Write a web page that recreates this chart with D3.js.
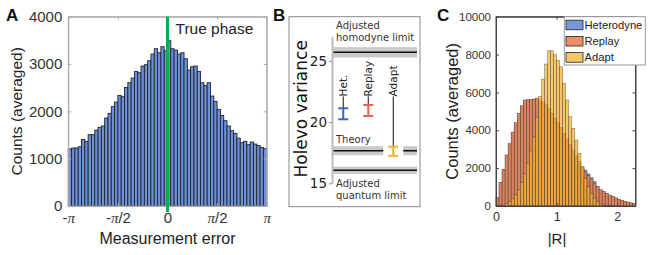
<!DOCTYPE html>
<html><head><meta charset="utf-8">
<script src="https://cdn.jsdelivr.net/npm/d3@7"></script>
<style>body{margin:0;background:#fff} svg{display:block}</style>
</head><body><svg id="c" width="653" height="255"></svg>
<script>
// ---------- Panel A data ----------
const errorCounts = [1204,1225,1225,1253,1408,1366,1507,1507,1605,1661,
  1690,1859,1957,2098,2196,2337,2309,2506,2605,2703,
  2844,2816,2957,2985,3069,3210,3323,3238,3365,3281,
  3492,3323,3295,3210,3238,3112,2872,2943,2957,2844,
  2605,2548,2605,2323,2211,2042,1915,1802,1690,1591,
  1535,1436,1337,1366,1295,1352,1309,1281,1239,1211];
const errorTicks = [-Math.PI, -Math.PI/2, 0, Math.PI/2, Math.PI];
const errorTickLabels = ["-π","-π/2","0","π/2","π"];
const countTicksA = [0,1000,2000,3000,4000];
const truePhase = [0];

// ---------- Panel B data ----------
const methods = ["Het.","Replay","Adapt"];
const methodPos = [0.45,1.45,2.45];
const holevoMean = [20.68,20.95,17.62];
const holevoErr = [0.45,0.45,0.37];
const limitLabels = [["Adjusted","homodyne limit"],["Theory"],["Adjusted","quantum limit"]];
const limitValues = [25.70,17.66,16.06];
const limitBand = [0.42,0.37,0.30];
const holevoTicks = [15,20,25];

// ---------- Panel C data ----------
const rBinStart = 0, rBinWidth = 0.05;
const heterodyne = [430,1230,1930,2680,3280,3880,4380,4880,5280,5580,
  5600,5600,5630,5680,5580,5480,5330,5130,4880,4630,
  4380,4130,3830,3530,3230,2930,2630,2330,2050,1900,
  1700,1500,1300,1020,850,750,660,570,490,420,
  350,290,240,200,160,120];
const replay = [450,1250,1950,2700,3300,3900,4400,4900,5300,5600,
  5620,5620,5650,5700,5600,5500,5350,5150,4900,4650,
  4400,4150,3850,3550,3250,2950,2650,2350,2050,1800,
  1600,1420,1200,1020,860,760,670,580,500,430,
  360,300,250,210,170,130];
const adapt = [0,15,50,120,230,400,600,850,1250,1700,
  2250,2900,3650,4700,5800,6700,7500,8200,8200,8000,
  7700,7355,6475,5600,4715,4100,3485,2780,2075,1460,
  1020,670,405,230,140,60,30,15,8,0,
  0,0,0,0,0,0];
const seriesNames = ["Heterodyne","Replay","Adapt"];
const countTicksC = [0,2000,4000,6000,8000,10000];
const rTicks = [0,1,2];

const svg = d3.select("#c");
const SANS = "'Liberation Sans', Arial, sans-serif";
const DJV = "'DejaVu Sans', sans-serif";
const intFmt = d3.format("d");

[["A",6],["B",273],["C",437]].forEach(([t,x])=>{
  svg.append("text").attr("x",x).attr("y",21).text(t)
    .attr("font-family",SANS).attr("font-weight","bold").attr("font-size",17).attr("fill","#111");
});

// ================= Panel A =================
const xA = d3.scaleLinear().domain([-Math.PI, Math.PI]).range([68.3, 266.7]);
const yA = d3.scaleLinear().domain([0,4000]).range([206, 16.7]);
const gA = svg.append("g");
const bwA = 2*Math.PI/errorCounts.length;
gA.selectAll("rect.bar").data(errorCounts).join("rect").attr("class","bar")
  .attr("x",(d,i)=>xA(-Math.PI+i*bwA))
  .attr("width",(d,i)=>xA(-Math.PI+(i+1)*bwA)-xA(-Math.PI+i*bwA))
  .attr("y",d=>yA(d)).attr("height",d=>yA(0)-yA(d))
  .attr("fill","#6f92d6").attr("stroke","#1e2230").attr("stroke-width",0.9);

function styleAxis(g, color, font, size, tc){
  g.selectAll("path.domain").attr("stroke",color);
  g.selectAll(".tick line").attr("stroke",color);
  g.selectAll("text").attr("font-family",font).attr("font-size",size).attr("fill",tc||"#333");
}
gA.append("rect").attr("x",xA.range()[0]).attr("y",yA.range()[1])
  .attr("width",xA.range()[1]-xA.range()[0]).attr("height",yA.range()[0]-yA.range()[1])
  .attr("fill","none").attr("stroke","#aaa");
const axA_b = gA.append("g").attr("transform",`translate(0,${yA(0)})`)
  .call(d3.axisBottom(xA).tickValues(errorTicks).tickSize(-3).tickSizeOuter(0).tickPadding(6).tickFormat((d,i)=>errorTickLabels[i]));
styleAxis(axA_b,"#aaa",SANS,15);
axA_b.selectAll(".tick text").each(function(d,i){
  const t = d3.select(this); const lab = errorTickLabels[i]; t.text(null);
  const parts = lab.split("π");
  parts.forEach((p,j)=>{
    if(p) t.append("tspan").text(p);
    if(j<parts.length-1) t.append("tspan").text("π").attr("font-family","'Liberation Serif', serif").attr("font-style","italic");
  });
});
const axA_t = gA.append("g").attr("transform",`translate(0,${yA(4000)})`)
  .call(d3.axisTop(xA).tickValues(errorTicks).tickSize(-3).tickSizeOuter(0).tickFormat(""));
styleAxis(axA_t,"#aaa",SANS,15);
const axA_l = gA.append("g").attr("transform",`translate(${xA(-Math.PI)},0)`)
  .call(d3.axisLeft(yA).tickValues(countTicksA).tickSize(-3).tickSizeOuter(0).tickPadding(6).tickFormat(intFmt));
styleAxis(axA_l,"#aaa",SANS,15);
const axA_r = gA.append("g").attr("transform",`translate(${xA(Math.PI)},0)`)
  .call(d3.axisRight(yA).tickValues(countTicksA).tickSize(-3).tickSizeOuter(0).tickFormat(""));
styleAxis(axA_r,"#aaa",SANS,15);
gA.selectAll("line.tp").data(truePhase).join("line").attr("class","tp")
  .attr("x1",d=>xA(d)).attr("x2",d=>xA(d)).attr("y1",yA(4000)).attr("y2",yA(0)+6)
  .attr("stroke","#00b050").attr("stroke-width",3);
gA.append("text").attr("x",xA(0)+8).attr("y",34).text("True phase")
  .attr("font-family",SANS).attr("font-size",15.5).attr("fill","#222");
gA.append("text").attr("x",(xA.range()[0]+xA.range()[1])/2).attr("y",244).attr("text-anchor","middle")
  .text("Measurement error").attr("font-family",SANS).attr("font-size",16).attr("fill","#222");
gA.append("text").attr("transform",`translate(22,${(yA.range()[0]+yA.range()[1])/2}) rotate(-90)`)
  .attr("text-anchor","middle").text("Counts (averaged)")
  .attr("font-family",SANS).attr("font-size",15.5).attr("fill","#222");

// ================= Panel B =================
const gB = svg.append("g");
gB.append("rect").attr("x",289).attr("y",16.7).attr("width",131).attr("height",190)
  .attr("fill","#fff").attr("stroke","#888");
const xB = d3.scaleLinear().domain([0,3.4]).range([332,417]);
const yB = d3.scaleLinear().domain([15,27]).range([183.3,36.4]);
const gapHalf = 0.4;
const segs = [];
limitValues.forEach((v,i)=>{
  const inGap = methodPos.map((p,k)=>({p,k})).filter(o=>Math.abs(holevoMean[o.k]-v)<limitBand[i]+holevoErr[o.k]);
  let pieces = [[0,3.4]];
  inGap.forEach(o=>{
    pieces = pieces.flatMap(([a,b])=>{
      const g0=o.p-gapHalf, g1=o.p+gapHalf;
      if(g1<=a||g0>=b) return [[a,b]];
      const out=[]; if(g0>a) out.push([a,g0]); if(g1<b) out.push([g1,b]); return out;
    });
  });
  pieces.forEach(([a,b])=>segs.push({v,band:limitBand[i],a,b}));
});
gB.selectAll("rect.band").data(segs).join("rect").attr("class","band")
  .attr("x",d=>xB(d.a)).attr("width",d=>xB(d.b)-xB(d.a))
  .attr("y",d=>yB(d.v+d.band)).attr("height",d=>yB(d.v-d.band)-yB(d.v+d.band))
  .attr("fill","#c9c9c9");
gB.selectAll("line.lim").data(segs).join("line").attr("class","lim")
  .attr("x1",d=>xB(d.a)).attr("x2",d=>xB(d.b)).attr("y1",d=>yB(d.v)).attr("y2",d=>yB(d.v))
  .attr("stroke","#111").attr("stroke-width",1.6);
const axB = gB.append("g").attr("transform",`translate(${xB(0)},0)`)
  .call(d3.axisLeft(yB).tickValues(holevoTicks).tickSize(3).tickSizeOuter(0).tickPadding(2));
axB.selectAll("path.domain").attr("stroke","#bbb").attr("stroke-width",2);
axB.selectAll(".tick line").attr("stroke","#888");
axB.selectAll("text").attr("font-family",DJV).attr("font-size",13.5).attr("fill","#222");
gB.append("text").attr("transform",`translate(307,${(yB(15)+yB(27))/2 - 1}) rotate(-90)`)
  .attr("text-anchor","middle").text("Holevo variance")
  .attr("font-family",DJV).attr("font-size",17).attr("fill","#111");
const labelY = [[29,41],[143],[187,199]];
limitLabels.forEach((lines,i)=>{
  lines.forEach((t,j)=>{
    gB.append("text").attr("x",xB(0)+4).attr("y",labelY[i][j]).text(t)
      .attr("font-family",DJV).attr("font-size",10).attr("fill","#333");
  });
});
const colB = ["#3d64c4","#e8604a","#f0b22e"];
const labelBase = 22.1;
methods.forEach((m,i)=>{
  const x = xB(methodPos[i]), y0=yB(holevoMean[i]-holevoErr[i]), y1=yB(holevoMean[i]+holevoErr[i]);
  gB.append("line").attr("x1",x).attr("x2",x).attr("y1",yB(labelBase)).attr("y2",y1)
    .attr("stroke","#111").attr("stroke-width",1);
  gB.append("line").attr("x1",x).attr("x2",x).attr("y1",y0).attr("y2",y1).attr("stroke",colB[i]).attr("stroke-width",2);
  [y0,y1].forEach(y=>gB.append("line").attr("x1",x-5).attr("x2",x+5).attr("y1",y).attr("y2",y)
    .attr("stroke",colB[i]).attr("stroke-width",2));
  gB.append("text").attr("transform",`translate(${x},${yB(labelBase)}) rotate(-90)`)
    .attr("text-anchor","start").attr("dominant-baseline","central").text(m)
    .attr("font-family",DJV).attr("font-size",10.5).attr("fill","#222");
});

// ================= Panel C =================
const gC = svg.append("g");
const xC = d3.scaleLinear().domain([0,2.3]).range([496,635.5]);
const yC = d3.scaleLinear().domain([0,10000]).range([206,16.7]);
const colC = ["#3b6fc6","#e8804e","#f1b033"];
const opC = [0.7,0.88,0.72];
[heterodyne,replay,adapt].forEach((arr,s)=>{
  gC.append("g").selectAll("rect").data(arr).join("rect")
    .attr("x",(d,i)=>xC(rBinStart+i*rBinWidth))
    .attr("width",(d,i)=>xC(rBinStart+(i+1)*rBinWidth)-xC(rBinStart+i*rBinWidth))
    .attr("y",d=>yC(d)).attr("height",d=>yC(0)-yC(d))
    .attr("fill",colC[s]).attr("fill-opacity",opC[s])
    .attr("stroke","#222").attr("stroke-width",0.5).attr("stroke-opacity",0.6);
});
gC.append("rect").attr("x",xC(0)).attr("y",yC(10000)).attr("width",xC(2.3)-xC(0)).attr("height",yC(0)-yC(10000))
  .attr("fill","none").attr("stroke","#444");
const axC_b = gC.append("g").attr("transform",`translate(0,${yC(0)})`)
  .call(d3.axisBottom(xC).tickValues(rTicks).tickSize(-3).tickSizeOuter(0).tickPadding(6).tickFormat(intFmt));
styleAxis(axC_b,"#444",SANS,12.5);
const axC_t = gC.append("g").attr("transform",`translate(0,${yC(10000)})`)
  .call(d3.axisTop(xC).tickValues(rTicks).tickSize(-3).tickSizeOuter(0).tickFormat(""));
styleAxis(axC_t,"#444",SANS,12);
const axC_l = gC.append("g").attr("transform",`translate(${xC(0)},0)`)
  .call(d3.axisLeft(yC).tickValues(countTicksC).tickSize(-3).tickSizeOuter(0).tickPadding(5).tickFormat(intFmt));
styleAxis(axC_l,"#444",SANS,11.5);
const axC_r = gC.append("g").attr("transform",`translate(${xC(2.3)},0)`)
  .call(d3.axisRight(yC).tickValues(countTicksC).tickSize(-3).tickSizeOuter(0).tickFormat(""));
styleAxis(axC_r,"#444",SANS,12);
gC.append("text").attr("x",557).attr("y",244).attr("text-anchor","middle").text("|R|")
  .attr("font-family",SANS).attr("font-size",15).attr("fill","#222");
gC.append("text").attr("transform",`translate(458,${(yC(0)+yC(10000))/2}) rotate(-90)`)
  .attr("text-anchor","middle").text("Counts (averaged)")
  .attr("font-family",SANS).attr("font-size",16.5).attr("fill","#222");
const lg = gC.append("g");
lg.append("rect").attr("x",564.3).attr("y",16.7).attr("width",81).attr("height",48.3)
  .attr("fill","#fff").attr("stroke","#999");
seriesNames.forEach((n,i)=>{
  const cy = 25 + i*16.2;
  lg.append("rect").attr("x",566).attr("y",cy-4.8).attr("width",17).attr("height",9.6)
    .attr("fill",colC[i]).attr("fill-opacity",opC[i]).attr("stroke","#222").attr("stroke-width",0.8);
  lg.append("text").attr("x",584.5).attr("y",cy).attr("dominant-baseline","central").text(n)
    .attr("font-family",SANS).attr("font-size",11.2).attr("fill","#222");
});
</script></body></html>
